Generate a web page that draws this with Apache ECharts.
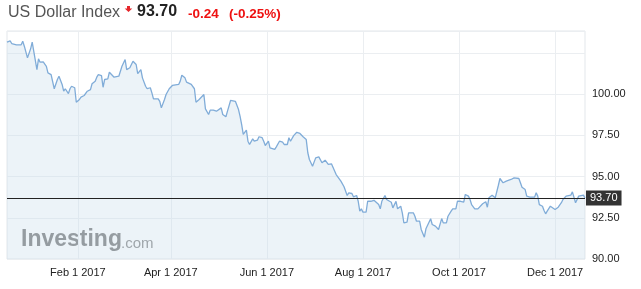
<!DOCTYPE html>
<html><head><meta charset="utf-8">
<script src="https://cdn.jsdelivr.net/npm/echarts@6/dist/echarts.min.js"></script>
<style>html,body{margin:0;padding:0;background:#fff}#c{width:641px;height:289px}</style>
</head><body><div id="c"></div>
<script>
const titleText = 'US Dollar Index';
const lastValue = 93.70;
const changeText = '-0.24';
const changePctText = '(-0.25%)';
const xMin = '2016-12-18';
const xMax = '2017-12-20';
const tickDates = ['2017-02-01','2017-04-01','2017-06-01','2017-08-01','2017-10-01','2017-12-01'];
const monthNames = ['Jan','Feb','Mar','Apr','May','Jun','Jul','Aug','Sep','Oct','Nov','Dec'];
const yMin = 90, yMax = 103.82, yStep = 2.5;

const dates = [
'2016-12-18','2016-12-20','2016-12-21','2016-12-22','2016-12-24','2016-12-27','2016-12-28','2016-12-29','2016-12-31',
'2017-01-02','2017-01-03','2017-01-04','2017-01-06','2017-01-07','2017-01-08','2017-01-10','2017-01-12','2017-01-13',
'2017-01-15','2017-01-17','2017-01-19','2017-01-20','2017-01-22','2017-01-23','2017-01-24','2017-01-26','2017-01-27',
'2017-01-28','2017-01-30','2017-01-31','2017-02-02','2017-02-03','2017-02-05','2017-02-07','2017-02-09','2017-02-10',
'2017-02-12','2017-02-13','2017-02-14','2017-02-16','2017-02-17','2017-02-18','2017-02-20','2017-02-21','2017-02-22',
'2017-02-24','2017-02-25','2017-02-27','2017-03-01','2017-03-03','2017-03-04','2017-03-06','2017-03-08','2017-03-10',
'2017-03-11','2017-03-12','2017-03-13','2017-03-14','2017-03-16','2017-03-17','2017-03-19','2017-03-20','2017-03-21',
'2017-03-22','2017-03-24','2017-03-25','2017-03-26','2017-03-28','2017-03-29','2017-03-31','2017-04-01','2017-04-02',
'2017-04-04','2017-04-06','2017-04-07','2017-04-08','2017-04-10','2017-04-11','2017-04-12','2017-04-14','2017-04-16',
'2017-04-17','2017-04-19','2017-04-20','2017-04-22','2017-04-23','2017-04-25','2017-04-26','2017-04-28','2017-04-30',
'2017-05-01','2017-05-03','2017-05-04','2017-05-06','2017-05-07','2017-05-09','2017-05-10','2017-05-12','2017-05-14',
'2017-05-15','2017-05-16','2017-05-17','2017-05-19','2017-05-20','2017-05-21','2017-05-23','2017-05-24','2017-05-26',
'2017-05-27','2017-05-29','2017-05-30','2017-05-31','2017-06-02','2017-06-03','2017-06-04','2017-06-06','2017-06-07',
'2017-06-09','2017-06-11','2017-06-12','2017-06-14','2017-06-15','2017-06-16','2017-06-18','2017-06-20','2017-06-21',
'2017-06-22','2017-06-24','2017-06-25','2017-06-26','2017-06-27','2017-06-28','2017-06-30','2017-07-01','2017-07-02',
'2017-07-04','2017-07-05','2017-07-06','2017-07-08','2017-07-09','2017-07-10','2017-07-12','2017-07-13','2017-07-15',
'2017-07-16','2017-07-18','2017-07-19','2017-07-20','2017-07-22','2017-07-23','2017-07-25','2017-07-26','2017-07-28',
'2017-07-29','2017-07-30','2017-07-31','2017-08-01','2017-08-03','2017-08-04','2017-08-06','2017-08-08','2017-08-09',
'2017-08-11','2017-08-12','2017-08-13','2017-08-15','2017-08-16','2017-08-17','2017-08-19','2017-08-20','2017-08-22',
'2017-08-23','2017-08-25','2017-08-26','2017-08-27','2017-08-29','2017-08-30','2017-08-31','2017-09-02','2017-09-03',
'2017-09-04','2017-09-06','2017-09-07','2017-09-09','2017-09-10','2017-09-11','2017-09-13','2017-09-14','2017-09-16',
'2017-09-17','2017-09-18','2017-09-20','2017-09-21','2017-09-23','2017-09-24','2017-09-26','2017-09-27','2017-09-29',
'2017-09-30','2017-10-02','2017-10-04','2017-10-05','2017-10-07','2017-10-08','2017-10-09','2017-10-11','2017-10-13',
'2017-10-14','2017-10-16','2017-10-18','2017-10-19','2017-10-20','2017-10-22','2017-10-23','2017-10-24','2017-10-26',
'2017-10-27','2017-10-29','2017-10-30','2017-10-31','2017-11-01','2017-11-03','2017-11-04','2017-11-05','2017-11-06',
'2017-11-08','2017-11-09','2017-11-10','2017-11-11','2017-11-12','2017-11-13','2017-11-15','2017-11-16','2017-11-18',
'2017-11-19','2017-11-20','2017-11-21','2017-11-23','2017-11-24','2017-11-25','2017-11-26','2017-11-28','2017-11-29',
'2017-12-01','2017-12-02','2017-12-03','2017-12-05','2017-12-06','2017-12-08','2017-12-09','2017-12-11','2017-12-12',
'2017-12-14','2017-12-15','2017-12-16','2017-12-17','2017-12-19','2017-12-20'
];

const values = [
103.14,103.22,103.06,103.04,102.98,102.98,103.20,102.90,102.19,
102.74,103.14,102.59,101.48,102.13,101.93,101.95,101.68,101.28,
101.18,100.32,100.88,101.08,100.58,100.17,100.32,100.03,100.32,
100.47,100.38,99.50,99.67,99.81,99.91,100.17,100.27,100.62,
100.78,101.02,101.18,101.12,100.41,100.88,100.92,101.32,101.22,
101.02,101.04,101.08,101.68,102.09,101.48,101.59,101.99,101.79,
101.24,101.28,101.48,100.98,100.47,100.32,100.38,100.07,99.71,
99.67,99.71,99.56,99.16,99.67,99.97,100.32,100.32,100.52,
100.56,100.58,100.78,101.14,100.98,100.72,100.68,100.58,100.32,
99.50,99.67,99.71,99.97,99.10,98.76,99.02,99.02,98.96,
98.96,99.16,98.76,98.62,98.96,99.62,99.62,99.56,99.06,
98.65,98.15,97.55,97.81,97.14,96.94,97.28,97.14,97.20,
97.41,97.35,97.14,96.88,97.14,96.74,96.74,96.64,96.80,
97.14,97.08,96.94,96.94,97.35,97.14,97.48,97.68,97.59,
97.61,97.41,97.44,97.24,96.44,96.03,95.62,95.59,96.13,
96.19,96.23,95.83,95.99,96.03,95.73,95.77,95.67,95.12,
95.12,94.72,94.78,94.38,93.85,94.01,93.97,93.77,93.85,
93.50,92.90,93.04,92.84,92.84,93.50,93.50,93.56,93.47,
93.30,93.04,93.50,93.85,93.61,93.56,93.44,93.10,93.50,
93.04,93.20,92.80,92.19,92.23,92.80,92.70,92.80,92.59,
92.29,92.29,91.79,91.32,91.83,91.89,92.44,92.09,91.99,
91.95,91.79,92.45,92.19,92.19,92.59,92.90,93.04,93.04,
93.50,93.50,93.45,93.91,93.81,93.61,93.30,93.04,93.04,
93.10,93.35,93.47,93.14,93.71,93.87,93.75,93.71,94.47,
94.88,94.62,94.56,94.72,94.72,94.82,94.76,94.92,94.88,
94.88,94.62,94.35,94.35,94.21,93.81,93.75,93.87,93.75,
94.01,93.81,93.30,93.20,92.94,92.74,92.90,93.20,93.10,
93.00,92.90,93.14,93.41,93.61,93.81,93.87,93.87,94.07,
93.41,93.47,93.81,93.91,93.87,93.70
];

function ts(s){ const p = s.split('-').map(Number); return new Date(p[0], p[1]-1, p[2]).getTime(); }
const seriesData = dates.map((d, i) => [ts(d), values[i]]);
const FONT = "'Liberation Sans', Arial, sans-serif";

const chart = echarts.init(document.getElementById('c'), null, {renderer: 'canvas'});
chart.setOption({
  animation: false,
  backgroundColor: '#ffffff',
  grid: { left: 7, right: 56, top: 31, bottom: 30, show: true, borderColor: '#e3e7eb', borderWidth: 1, backgroundColor: 'transparent' },
  xAxis: {
    type: 'value',
    min: ts(xMin), max: ts(xMax),
    axisLine: { show: false },
    axisTick: { show: false, customValues: tickDates.map(ts) },
    axisLabel: {
      customValues: tickDates.map(ts),
      formatter: v => { const d = new Date(v); return monthNames[d.getMonth()] + ' ' + d.getDate() + ' ' + d.getFullYear(); },
      color: '#222', fontSize: 11, fontFamily: FONT, margin: 8
    },
    splitLine: { show: true, lineStyle: { color: '#ebeef1', width: 1 } }
  },
  yAxis: {
    type: 'value', position: 'right',
    min: yMin, max: yMax, interval: yStep,
    axisLine: { show: false }, axisTick: { show: false },
    axisLabel: {
      formatter: v => (v > 101 ? '' : v.toFixed(2)),
      showMaxLabel: false,
      color: '#222', fontSize: 11, fontFamily: FONT, margin: 7
    },
    splitLine: { show: true, lineStyle: { color: '#ebeef1', width: 1 } }
  },
  series: [{
    type: 'line',
    data: seriesData,
    showSymbol: false,
    symbol: 'none',
    lineStyle: { color: '#80acd8', width: 1.3 },
    areaStyle: { color: 'rgba(200,220,235,0.49)' },
    markLine: {
      silent: true, symbol: 'none', animation: false,
      data: [{ yAxis: lastValue }],
      lineStyle: { color: '#222', width: 1, type: 'solid' },
      label: {
        position: 'end', distance: 1,
        formatter: lastValue.toFixed(2),
        backgroundColor: '#333', color: '#fff', fontSize: 11, fontFamily: FONT,
        padding: [2, 4], lineHeight: 11
      }
    }
  }],
  graphic: [
    { type: 'text', x: 8, y: 5, style: { text: titleText, font: '16px ' + FONT, fill: '#555' } },
    { type: 'polygon', shape: { points: [[127,6],[130,6],[130,8.5],[132.3,8.5],[128.5,12],[124.7,8.5],[127,8.5]] }, style: { fill: '#e5262b' } },
    { type: 'text', x: 137, y: 4, style: { text: lastValue.toFixed(2), font: 'bold 16px ' + FONT, fill: '#222' } },
    { type: 'text', x: 188, y: 7, style: { text: changeText, font: 'bold 13.5px ' + FONT, fill: '#ee1111' } },
    { type: 'text', x: 229, y: 7, style: { text: changePctText, font: 'bold 13.5px ' + FONT, fill: '#ee1111' } },
    { type: 'text', x: 21, y: 228, style: { text: 'Investing', font: 'bold 23px ' + FONT, fill: '#7b7b7b' } },
    { type: 'text', x: 121, y: 236, style: { text: '.com', font: '15px ' + FONT, fill: '#8a8a8a' } }
  ]
});
</script></body></html>
